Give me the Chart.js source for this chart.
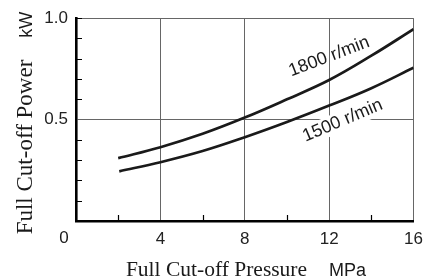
<!DOCTYPE html>
<html>
<head>
<meta charset="utf-8">
<script src="https://cdn.jsdelivr.net/npm/chart.js@4.4.0/dist/chart.umd.min.js"></script>
<style>
html, body { margin: 0; padding: 0; background: #fff; }
#wrap { width: 431px; height: 278px; }
</style>
</head>
<body>
<div id="wrap"><canvas id="chart"></canvas></div>
<script>
// values (MPa -> kW)
const pressure1800 = [2, 4, 6, 8, 10, 12, 14, 16];
const power1800 = [0.31, 0.364, 0.43, 0.51, 0.60, 0.695, 0.815, 0.946];
const pressure1500 = [2.05, 4, 6, 8, 10, 12, 14, 16];
const power1500 = [0.245, 0.29, 0.345, 0.413, 0.488, 0.569, 0.655, 0.756];

const curveNames = ["1800 r/min", "1500 r/min"];
const curveNameAt = [[12.0, 0.81], [12.64, 0.495]];
const curveNameAngle = [-21, -23];

const xMajor = [4, 8, 12, 16];
const xMinor = [2, 6, 10, 14];
const yMajor = [0.5, 1.0];

const sans = "'Liberation Sans', Arial, sans-serif";
const serif = "'Liberation Serif', 'Times New Roman', serif";
const ink = "#1a1a1a";

const toPoints = (xs, ys) => xs.map((x, i) => ({x, y: ys[i]}));
const isMajorY = (v) => yMajor.some((m) => Math.abs(m - v) < 1e-6);

const extras = {
	id: "extras",
	beforeDraw(chart) {
		const {ctx} = chart;
		ctx.save();
		ctx.fillStyle = "#fff";
		ctx.fillRect(0, 0, chart.width, chart.height);
		ctx.restore();
	},
	beforeDatasetsDraw(chart) {
		// white box behind the 1500 label hides the grid line
		const {ctx, scales: {x, y}} = chart;
		const [px, py] = curveNameAt[1];
		ctx.save();
		ctx.translate(x.getPixelForValue(px), y.getPixelForValue(py));
		ctx.rotate(curveNameAngle[1] * Math.PI / 180);
		ctx.fillStyle = "#fff";
		ctx.fillRect(-46, -10, 92, 20);
		ctx.restore();
	},
	afterDraw(chart) {
		const {ctx, chartArea: a, scales: {x, y}} = chart;
		ctx.save();
		ctx.strokeStyle = "#000";
		ctx.lineWidth = 1.2;
		ctx.beginPath();
		for (let v = 0.1; v < 1; v += 0.1) {
			if (Math.abs(v - 0.5) < 1e-6) continue;
			const py = Math.round(y.getPixelForValue(v)) + 0.5;
			ctx.moveTo(a.left, py);
			ctx.lineTo(a.left + 6, py);
		}
		xMinor.forEach((v) => {
			const px = Math.round(x.getPixelForValue(v)) + 0.5;
			ctx.moveTo(px, a.bottom);
			ctx.lineTo(px, a.bottom - 6);
		});
		ctx.stroke();

		// curve names
		ctx.fillStyle = ink;
		ctx.font = "18px " + sans;
		ctx.textAlign = "center";
		ctx.textBaseline = "middle";
		curveNames.forEach((name, i) => {
			ctx.save();
			ctx.translate(x.getPixelForValue(curveNameAt[i][0]), y.getPixelForValue(curveNameAt[i][1]));
			ctx.rotate(curveNameAngle[i] * Math.PI / 180);
			ctx.fillText(name, 0, 0);
			ctx.restore();
		});

		// shared origin label
		ctx.font = "17px " + sans;
		ctx.fillText("0", x.getPixelForValue(0) - 12, a.bottom + 17);

		// axis titles, serif name + sans unit
		ctx.textAlign = "left";
		ctx.textBaseline = "alphabetic";
		const gap = 22;

		const xName = "Full Cut-off Pressure";
		const xUnit = "MPa";
		ctx.font = "21.5px " + serif;
		const w1 = ctx.measureText(xName).width;
		ctx.font = "18px " + sans;
		const w2 = ctx.measureText(xUnit).width;
		let sx = 246 - (w1 + gap + w2) / 2;
		ctx.font = "21.5px " + serif;
		ctx.fillText(xName, sx, 276);
		ctx.font = "18px " + sans;
		ctx.fillText(xUnit, sx + w1 + gap, 276);

		const yName = "Full Cut-off Power";
		const yUnit = "kW";
		ctx.translate(32, 123);
		ctx.rotate(-Math.PI / 2);
		ctx.font = "23px " + serif;
		const h1 = ctx.measureText(yName).width;
		ctx.font = "18px " + sans;
		const h2 = ctx.measureText(yUnit).width;
		sx = -(h1 + gap + h2) / 2;
		ctx.font = "23px " + serif;
		ctx.fillText(yName, sx, 0);
		ctx.font = "18px " + sans;
		ctx.fillText(yUnit, sx + h1 + gap, 0);
		ctx.restore();
	}
};

new Chart(document.getElementById("chart"), {
	type: "scatter",
	data: {
		datasets: [
			{
				label: curveNames[0],
				data: toPoints(pressure1800, power1800),
				showLine: true,
				borderColor: ink,
				borderWidth: 2.7,
				pointRadius: 0,
				tension: 0.4
			},
			{
				label: curveNames[1],
				data: toPoints(pressure1500, power1500),
				showLine: true,
				borderColor: ink,
				borderWidth: 2.7,
				pointRadius: 0,
				tension: 0.4
			}
		]
	},
	options: {
		responsive: true,
		maintainAspectRatio: false,
		animation: false,
		layout: {padding: {top: 17, right: 11, left: 0, bottom: 0}},
		plugins: {legend: {display: false}, tooltip: {enabled: false}},
		scales: {
			x: {
				type: "linear",
				min: 0,
				max: 16,
				afterFit: (scale) => { scale.height = 57; },
				ticks: {
					stepSize: 2,
					autoSkip: false,
					maxRotation: 0,
					padding: 8,
					color: "#222",
					font: {family: sans, size: 17},
					callback: (v) => xMajor.includes(v) ? String(v) : ""
				},
				grid: {
					drawTicks: false,
					lineWidth: 1,
					color: (c) => c.tick && xMajor.includes(c.tick.value) ? "#666" : "rgba(0,0,0,0)"
				},
				border: {color: "#000", width: 2.6}
			},
			y: {
				type: "linear",
				min: 0,
				max: 1,
				afterFit: (scale) => { scale.width = 76; },
				ticks: {
					stepSize: 0.1,
					autoSkip: false,
					padding: 8,
					color: "#222",
					font: {family: sans, size: 17},
					callback: (v) => isMajorY(v) ? v.toFixed(1) : ""
				},
				grid: {
					drawTicks: false,
					lineWidth: 1,
					color: (c) => c.tick && isMajorY(c.tick.value) ? "#666" : "rgba(0,0,0,0)"
				},
				border: {color: "#000", width: 2.6}
			}
		}
	},
	plugins: [extras]
});
</script>
</body>
</html>
